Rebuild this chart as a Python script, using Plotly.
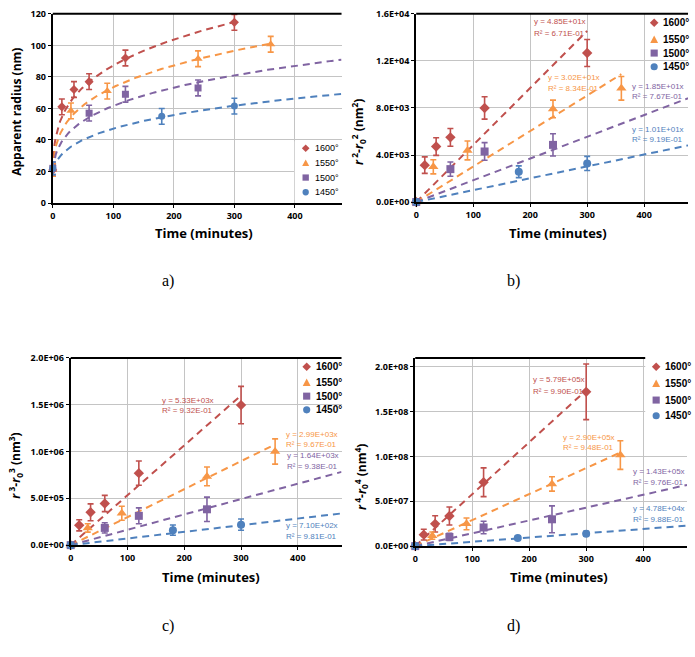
import numpy as np
import plotly.graph_objects as go

W, H = 695, 657

# ---------------- data ----------------
temps = ["1600°", "1550°", "1500°", "1450°"]
colors = ["#C0504D", "#F79646", "#8064A2", "#4F81BD"]
symbols = ["diamond", "triangle-up", "square", "circle"]

t_1600 = [0, 15, 35, 60, 120, 300]
t_1550 = [0, 30, 90, 240, 360]
t_1500 = [0, 60, 120, 240]
t_1450 = [0, 180, 300]
times = [t_1600, t_1550, t_1500, t_1450]

# a) apparent radius (nm)
r_1600 = [21, 61, 72, 77, 92, 114.6]
r_1550 = [21, 58.5, 71, 91.5, 100.7]
r_1500 = [22, 57, 69, 73]
r_1450 = [22, 55, 61.5]
re_1600 = [4, 5, 5, 5, 5, 5]
re_1550 = [4, 5, 5, 5, 5]
re_1500 = [4, 5, 5, 5]
re_1450 = [4, 5, 5]

# b) r^2 - r0^2
b_1600 = [0, 3140, 4720, 5500, 8000, 12670]
b_1550 = [0, 3000, 4390, 7920, 9670]
b_1500 = [0, 2800, 4300, 4860]
b_1450 = [0, 2580, 3280]
be_1600 = [0, 700, 750, 750, 950, 1150]
be_1550 = [0, 600, 800, 750, 1000]
be_1500 = [0, 600, 750, 950]
be_1450 = [0, 500, 600]

# c) r^3 - r0^3
c_1600 = [0, 212e3, 351e3, 445e3, 769e3, 1.496e6]
c_1550 = [0, 184e3, 341e3, 734e3, 1.0e6]
c_1500 = [0, 184e3, 313e3, 383e3]
c_1450 = [0, 160e3, 219e3]
ce_1600 = [0, 60e3, 90e3, 87e3, 130e3, 200e3]
ce_1550 = [0, 45e3, 75e3, 100e3, 135e3]
ce_1500 = [0, 55e3, 85e3, 130e3]
ce_1450 = [0, 55e3, 60e3]

# d) r^4 - r0^4
d_1600 = [0, 12.8e6, 24.8e6, 33.6e6, 71.2e6, 172e6]
d_1550 = [0, 11.7e6, 24.8e6, 69.3e6, 101.5e6]
d_1500 = [0, 10.2e6, 20.8e6, 29.9e6]
d_1450 = [0, 9.1e6, 13.9e6]
de_1600 = [0, 6e6, 9e6, 10e6, 16e6, 31e6]
de_1550 = [0, 4e6, 6.5e6, 8e6, 16e6]
de_1500 = [0, 4e6, 7e6, 15e6]
de_1450 = [0, 2e6, 2.5e6]

# fitted slopes (from the trendline labels)
slope_b = [48.5, 30.2, 18.5, 10.1]
slope_c = [5330, 2990, 1640, 710]
slope_d = [5.79e5, 2.90e5, 1.43e5, 4.78e4]
r0 = 21
trend_end = [300, 360, 477, 477]

eq_b = [("y = 4.85E+01x", "R² = 6.71E-01"), ("y = 3.02E+01x", "R² = 8.34E-01"),
        ("y = 1.85E+01x", "R² = 7.67E-01"), ("y = 1.01E+01x", "R² = 9.19E-01")]
eq_c = [("y = 5.33E+03x", "R² = 9.32E-01"), ("y = 2.99E+03x", "R² = 9.67E-01"),
        ("y = 1.64E+03x", "R² = 9.38E-01"), ("y = 7.10E+02x", "R² = 9.81E-01")]
eq_d = [("y = 5.79E+05x", "R² = 9.90E-01"), ("y = 2.90E+05x", "R² = 9.48E-01"),
        ("y = 1.43E+05x", "R² = 9.76E-01"), ("y = 4.78E+04x", "R² = 9.88E-01")]

x_ticks = [0, 100, 200, 300, 400]
a_ticks = [0, 20, 40, 60, 80, 100, 120]
b_ticks = [0, 4000, 8000, 12000, 16000]
b_labels = ["0.0E+00", "4.0E+03", "8.0E+03", "1.2E+04", "1.6E+04"]
c_ticks = [0, 5e5, 1e6, 1.5e6, 2e6]
c_labels = ["0.0E+00", "5.0E+05", "1.0E+06", "1.5E+06", "2.0E+06"]
d_ticks = [0, 5e7, 1e8, 1.5e8, 2e8]
d_labels = ["0.0E+00", "5.0E+07", "1.0E+08", "1.5E+08", "2.0E+08"]

panels = [
    dict(vals=[r_1600, r_1550, r_1500, r_1450], errs=[re_1600, re_1550, re_1500, re_1450]),
    dict(vals=[b_1600, b_1550, b_1500, b_1450], errs=[be_1600, be_1550, be_1500, be_1450]),
    dict(vals=[c_1600, c_1550, c_1500, c_1450], errs=[ce_1600, ce_1550, ce_1500, ce_1450]),
    dict(vals=[d_1600, d_1550, d_1500, d_1450], errs=[de_1600, de_1550, de_1500, de_1450]),
]

# ---------------- layout geometry (pixels) ----------------
boxes = [  # left, right, top, bottom
    (50, 340, 7, 200),
    (415, 688, 7, 199),
    (68, 340, 358, 549),
    (414, 687, 358, 550),
]

def px(x):
    return x / W

def py(y):
    return 1 - y / H

fig = go.Figure()
FONT = "Open Sans"
LFONT = "Liberation Sans"

for i, p in enumerate(panels):
    xa = "x" if i == 0 else f"x{i+1}"
    ya = "y" if i == 0 else f"y{i+1}"
    # trend lines
    for k in range(4):
        if i == 0:
            tt = np.linspace(0, trend_end[k], 200)
            yy = (r0 ** 4 + slope_d[k] * tt) ** 0.25
        else:
            sl = [None, slope_b, slope_c, slope_d][i][k]
            tt = np.array([0, trend_end[k]])
            yy = sl * tt
        fig.add_trace(go.Scatter(x=tt, y=yy, mode="lines", xaxis=xa, yaxis=ya,
                                 line=dict(color=colors[k], width=2, dash="7px,5px"),
                                 showlegend=False, hoverinfo="skip"))
    # data points
    for k in range(4):
        msize = 7 if i == 0 else 8
        if symbols[k] == "triangle-up":
            msize += 1
        fig.add_trace(go.Scatter(x=times[k], y=p["vals"][k], mode="markers",
                                 xaxis=xa, yaxis=ya, name=temps[k], showlegend=False,
                                 cliponaxis=False,
                                 marker=dict(symbol=symbols[k], color=colors[k], size=msize),
                                 error_y=dict(type="data", array=p["errs"][k], visible=True,
                                              color=colors[k], thickness=1.6, width=3)))

tickfont = dict(family=FONT, size=9, color="black", weight="bold")
yinfo = [
    (a_ticks, [str(v) for v in a_ticks], [0, 120]),
    (b_ticks, b_labels, [0, 16000]),
    (c_ticks, c_labels, [0, 2e6]),
    (d_ticks, d_labels, [0, 2.098e8]),
]
for i, (l, r, t, b) in enumerate(boxes):
    sx = "xaxis" if i == 0 else f"xaxis{i+1}"
    sy = "yaxis" if i == 0 else f"yaxis{i+1}"
    xa = "x" if i == 0 else f"x{i+1}"
    ya = "y" if i == 0 else f"y{i+1}"
    fig.layout[sx] = dict(domain=[px(l), px(r)], range=[0, 477], anchor=ya,
                          tickvals=x_ticks, ticktext=[str(v) for v in x_ticks],
                          showgrid=True, gridcolor="#C4C4C4", gridwidth=1,
                          showline=True, linecolor="black", linewidth=2,
                          ticks="outside", ticklen=3, tickcolor="black", tickwidth=1,
                          zeroline=False, tickfont=tickfont)
    tv, tl, rg = yinfo[i]
    fig.layout[sy] = dict(domain=[py(b), py(t)], range=rg, anchor=xa,
                          tickvals=tv, ticktext=tl,
                          showgrid=True, gridcolor="#C4C4C4", gridwidth=1,
                          showline=True, linecolor="black", linewidth=2,
                          ticks="outside", ticklen=3, tickcolor="black", tickwidth=1,
                          zeroline=False, tickfont=tickfont)

shapes = []
annotations = []
# top border for each panel
for (l, r, t, b) in boxes:
    shapes.append(dict(type="line", xref="paper", yref="paper", x0=px(l), x1=px(r),
                       y0=py(t), y1=py(t), line=dict(color="black", width=2)))

# x titles and captions
for (cx, cy) in [(202, 231), (557, 231), (209, 582), (558, 582)]:
    annotations.append(dict(text="Time (minutes)", x=px(cx), y=py(cy), xref="paper", yref="paper",
                            showarrow=False, xanchor="center", yanchor="middle",
                            font=dict(family=FONT, size=13, color="black", weight="bold")))
for (txt, cx, cy) in [("a)", 166, 280), ("b)", 513, 280), ("c)", 166, 632), ("d)", 513, 632)]:
    annotations.append(dict(text=txt, x=px(cx), y=py(cy), xref="paper", yref="paper",
                            showarrow=False, xanchor="center", yanchor="middle",
                            font=dict(family="Liberation Serif", size=16, color="black")))

# y titles
ytitles = [
    ("Apparent radius (nm)", 14, 107),
    ("<i>r</i><sup> 2</sup>-<i>r</i><sub>0</sub><sup>2</sup> (nm<sup>2</sup>)", 357, 127),
    ("<i>r</i><sup> 3</sup>-<i>r</i><sub>0</sub><sup>3</sup> (nm<sup>3</sup>)", 13, 468),
    ("<i>r</i><sup> 4</sup>-<i>r</i><sub>0</sub><sup>4</sup> (nm<sup>4</sup>)", 360, 479),
]
for (txt, cx, cy) in ytitles:
    annotations.append(dict(text=txt, x=px(cx), y=py(cy), xref="paper", yref="paper",
                            showarrow=False, xanchor="center", yanchor="middle", textangle=-90,
                            font=dict(family=FONT, size=12, color="black", weight="bold")))

# trendline equation labels
eq_pos = [
    None,
    [(531, 15, 27), (545, 72, 83), (630, 81, 91), (630, 125, 135)],
    [(158, 401, 412), (282, 436, 446), (283, 458, 469), (282, 529, 540)],
    [(530, 380, 392), (560, 439, 449), (631, 474, 485), (631, 512, 523)],
]
eqs = [None, eq_b, eq_c, eq_d]
for i in (1, 2, 3):
    for k in range(4):
        xl, y1, y2 = eq_pos[i][k]
        for txt, yy in zip(eqs[i][k], (y1, y2)):
            annotations.append(dict(text=txt, x=px(xl), y=py(yy), xref="paper", yref="paper",
                                    showarrow=False, xanchor="left", yanchor="middle",
                                    font=dict(family=LFONT, size=8, color=colors[k])))

# legends (drawn manually: marker shapes + text)
legend_specs = [
    # marker x, text x, item ys, marker half-size, font size, bold, white box
    (304, 311, [144, 159, 174, 189], 3.2, 9, False, (293, 345, 137, 197)),
    (654, 661, [16, 33, 47, 61], 3.6, 10, True, None),
    (305, 312, [367, 383, 397, 411], 3.6, 10, True, None),
    (656, 663, [367, 384, 401, 417], 3.6, 10, True, (645, 695, 355, 425)),
]
for (mx, tx, ys, s, fs, bold, box) in legend_specs:
    if box is not None:
        shapes.append(dict(type="rect", xref="paper", yref="paper", x0=px(box[0]), x1=px(box[1]),
                           y0=py(box[3]), y1=py(box[2]), fillcolor="white", line=dict(width=0),
                           layer="above"))
    for k, yy in enumerate(ys):
        c = colors[k]
        if symbols[k] == "diamond":
            path = (f"M {px(mx)} {py(yy - s*1.2)} L {px(mx + s*1.2)} {py(yy)} "
                    f"L {px(mx)} {py(yy + s*1.2)} L {px(mx - s*1.2)} {py(yy)} Z")
            shapes.append(dict(type="path", xref="paper", yref="paper", path=path,
                               fillcolor=c, line=dict(width=0), layer="above"))
        elif symbols[k] == "triangle-up":
            path = (f"M {px(mx)} {py(yy - s*1.1)} L {px(mx + s*1.1)} {py(yy + s)} "
                    f"L {px(mx - s*1.1)} {py(yy + s)} Z")
            shapes.append(dict(type="path", xref="paper", yref="paper", path=path,
                               fillcolor=c, line=dict(width=0), layer="above"))
        elif symbols[k] == "square":
            shapes.append(dict(type="rect", xref="paper", yref="paper",
                               x0=px(mx - s), x1=px(mx + s), y0=py(yy + s), y1=py(yy - s),
                               fillcolor=c, line=dict(width=0), layer="above"))
        else:
            shapes.append(dict(type="circle", xref="paper", yref="paper",
                               x0=px(mx - s), x1=px(mx + s), y0=py(yy + s), y1=py(yy - s),
                               fillcolor=c, line=dict(width=0), layer="above"))
        annotations.append(dict(text=temps[k], x=px(tx), y=py(yy), xref="paper", yref="paper",
                                showarrow=False, xanchor="left", yanchor="middle",
                                font=dict(family=LFONT, size=fs, color="black",
                                          weight="bold" if bold else "normal")))

fig.update_layout(width=W, height=H, margin=dict(l=0, r=0, t=0, b=0),
                  paper_bgcolor="white", plot_bgcolor="white",
                  shapes=shapes, annotations=annotations, showlegend=False)

fig.write_html("out.html")
